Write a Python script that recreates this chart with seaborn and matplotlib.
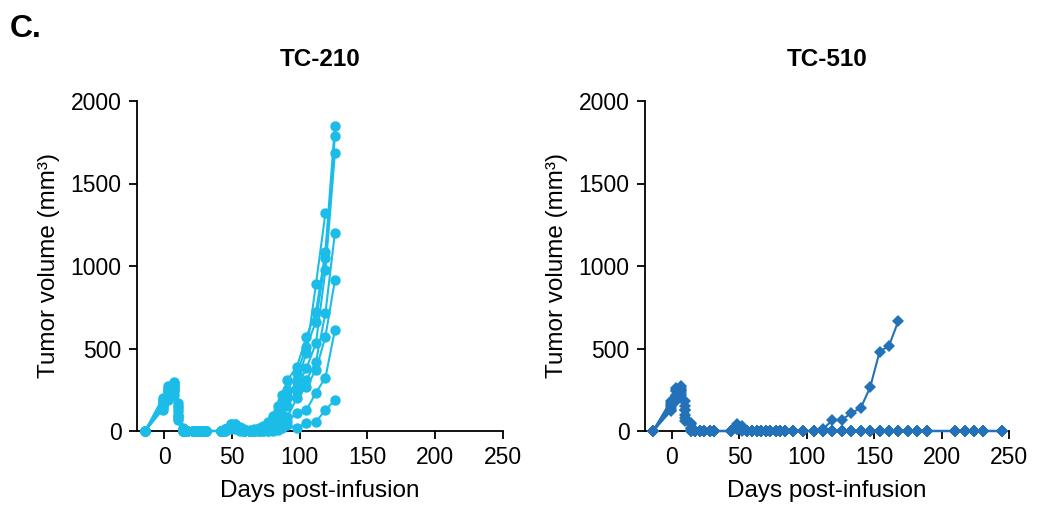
import numpy as np
import pandas as pd
import matplotlib
matplotlib.use('Agg')
import matplotlib.pyplot as plt
import seaborn as sns

sns.set_style('ticks')
plt.rcParams['font.family'] = ['Liberation Sans', 'DejaVu Sans']
plt.rcParams['text.color'] = 'black'
plt.rcParams['axes.labelcolor'] = 'black'
plt.rcParams['xtick.color'] = 'black'
plt.rcParams['ytick.color'] = 'black'

nan = np.nan

# TC-210: measurement days and tumor volumes (mm3) per mouse
days_210 = [-14, -1, 3, 7, 10, 14, 17, 21, 24, 28, 31,
            42, 45, 49, 52, 56, 59, 63, 66, 70, 73,
            77, 80, 84, 87, 91, 98, 105, 112, 119, 126]
tc210_m1 = [0, 180, 250, 290, 150, 10, 0, 0, 0, 0, 0,
            0, 10, 35, 40, 20, 5, 0, 0, 10, 20,
            40, 70, 110, 160, 210, 300, 472, 890, 1320, nan]
tc210_m2 = [0, 150, 220, 260, 120, 0, 0, 0, 0, 0, 0,
            0, 15, 45, 40, 25, 10, 5, 10, 20, 30,
            55, 90, 150, 218, 309, 390, 572, 723, 1087, 1848]
tc210_m3 = [0, 200, 270, 300, 170, 20, 0, 0, 0, 0, 0,
            0, 5, 30, 35, 15, 0, 0, 5, 15, 25,
            45, 80, 120, 180, 248, 351, 511, 662, 1048, 1790]
tc210_m4 = [0, 160, 230, 250, 100, 0, 0, 0, 0, 0, 0,
            0, 10, 40, 30, 10, 0, 0, 0, 10, 15,
            30, 55, 90, 150, 208, 268, 380, 532, 975, 1685]
tc210_m5 = [0, 140, 200, 240, 90, 0, 0, 0, 0, 0, 0,
            0, 0, 25, 30, 10, 0, 0, 0, 5, 10,
            20, 35, 60, 100, 150, 238, 309, 420, 715, 1202]
tc210_m6 = [0, 190, 260, 280, 140, 15, 0, 0, 0, 0, 0,
            0, 5, 35, 25, 5, 0, 0, 0, 0, 5,
            10, 20, 40, 60, 87, 200, 267, 370, 572, 915]
tc210_m7 = [0, 170, 240, 270, 80, 0, 0, 0, 0, 0, 0,
            0, 0, 20, 20, 5, 0, 0, 0, 0, 0,
            0, 10, 20, 40, 60, 109, 127, 232, 323, 612]
tc210_m8 = [0, 130, 190, 220, 67, 0, 0, 0, 0, 0, 0,
            0, 0, 15, 15, 0, 0, 0, 0, 0, 0,
            0, 0, 5, 20, 36, 18, 48, 56, 127, 188]

# TC-510: measurement days and tumor volumes (mm3) per mouse
days_510 = [-14, -1, 3, 7, 10, 14, 17, 21, 24, 28, 31,
            44, 48, 52, 56, 59, 63, 66, 70, 73, 77, 80, 84, 90, 97,
            105, 112, 119, 126, 133, 140, 147, 154, 161, 168,
            175, 182, 189, 210, 217, 224, 231, 245]
tc510_m1 = [0, 150, 220, 250, 130, 20, 0, 0, 0, 0, 0,
            0, 30, 20, 0, 0, 0, 0, 0, 0, 0, 0, 0, 0, 0,
            0, 0, 0, 0, 0, 0, 0, 0, 0, 0,
            0, 0, 0, 0, 0, 0, 0, 0]
tc510_m2 = [0, 180, 260, 270, 180, 40, 0, 0, 0, 0, 0,
            0, 45, 30, 0, 0, 0, 0, 0, 0, 0, 0, 0, 0, 0,
            0, 10, 67, 67, 109, 139, 265, 480, 517, 668,
            nan, nan, nan, nan, nan, nan, nan, nan]
tc510_m3 = [0, 130, 200, 230, 100, 0, 0, 0, 0, 0, 0,
            0, 20, 10, 0, 0, 0, 0, 0, 0, 0, 0, 0, 0, 0,
            0, 0, 0, 0, 0, 0, 0, 0, 0, 0,
            0, 0, 0, 0, 0, 0, 0, 0]
tc510_m4 = [0, 170, 240, 260, 150, 10, 0, 0, 0, 0, 0,
            0, 35, 15, 0, 0, 0, 0, 0, 0, 0, 0, 0, 0, 0,
            0, 0, 0, 0, 0, 0, 0, 0, 0, 0,
            0, 0, 0, 0, 0, 0, 0, 0]
tc510_m5 = [0, 120, 180, 200, 80, 0, 0, 0, 0, 0, 0,
            0, 10, 5, 0, 0, 0, 0, 0, 0, 0, 0, 0, 0, 0,
            0, 0, 0, 0, 0, 0, 0, 0, 0, 0,
            0, 0, 0, 0, 0, 0, 0, 0]
tc510_m6 = [0, 160, 250, 240, 127, 48, 0, 0, 0, 0, 0,
            0, 25, 20, 0, 0, 0, 0, 0, 0, 0, 0, 0, 0, 0,
            0, 0, 0, 0, 0, 0, 0, 0, 0, 0,
            0, 0, 0, 0, 0, 0, 0, 0]
tc510_m7 = [0, 140, 210, 220, 60, 0, 0, 0, 0, 0, 0,
            0, 15, 0, 0, 0, 0, 0, 0, 0, 0, 0, 0, 0, 0,
            0, 0, 0, 0, 0, 0, 0, 0, 0, 0,
            0, 0, 0, 0, 0, 0, 0, 0]

x_ticks = [0, 50, 100, 150, 200, 250]
y_ticks = [0, 500, 1000, 1500, 2000]

COLOR_210 = '#1BBDE8'
COLOR_510 = '#2372B9'


def to_long(days, mice):
    rows = []
    for name, vals in mice.items():
        for d, v in zip(days, vals):
            if not np.isnan(v):
                rows.append({'mouse': name, 'day': d, 'volume': v})
    return pd.DataFrame(rows)


df_210 = to_long(days_210, {
    'm1': tc210_m1, 'm2': tc210_m2, 'm3': tc210_m3, 'm4': tc210_m4,
    'm5': tc210_m5, 'm6': tc210_m6, 'm7': tc210_m7, 'm8': tc210_m8})
df_510 = to_long(days_510, {
    'm1': tc510_m1, 'm2': tc510_m2, 'm3': tc510_m3, 'm4': tc510_m4,
    'm5': tc510_m5, 'm6': tc510_m6, 'm7': tc510_m7})

fig = plt.figure(figsize=(10.37, 5.05), dpi=100)
ax1 = fig.add_axes([137 / 1037, 74 / 505, 366 / 1037, 330 / 505])
ax2 = fig.add_axes([645 / 1037, 74 / 505, 364 / 1037, 330 / 505])


def draw_panel(ax, df, color, marker, ms, title):
    sns.lineplot(data=df, x='day', y='volume', units='mouse', estimator=None,
                 color=color, marker=marker, markersize=ms, markeredgewidth=0,
                 linewidth=1.5, ax=ax, clip_on=False, zorder=3)
    ax.set_xlim(-20, 250)
    ax.set_ylim(0, 2000)
    ax.set_xticks(x_ticks)
    ax.set_yticks(y_ticks)
    ax.set_xlabel('Days post-infusion', fontsize=17.5, labelpad=8)
    ax.set_ylabel('Tumor volume (mm³)', fontsize=17.5, labelpad=8)
    ax.set_title(title, fontsize=17.5, fontweight='bold', pad=25)
    ax.tick_params(labelsize=16.5, width=1.3, length=6, pad=5, color='black')
    for side in ['left', 'bottom']:
        ax.spines[side].set_linewidth(1.3)
        ax.spines[side].set_color('black')
    sns.despine(ax=ax)


draw_panel(ax1, df_210, COLOR_210, 'o', 7.5, 'TC-210')
draw_panel(ax2, df_510, COLOR_510, 'D', 6.5, 'TC-510')

fig.text(10 / 1037, 1 - 37 / 505, 'C.', fontsize=23, fontweight='bold', va='baseline')

fig.savefig('out.png', dpi=100)
